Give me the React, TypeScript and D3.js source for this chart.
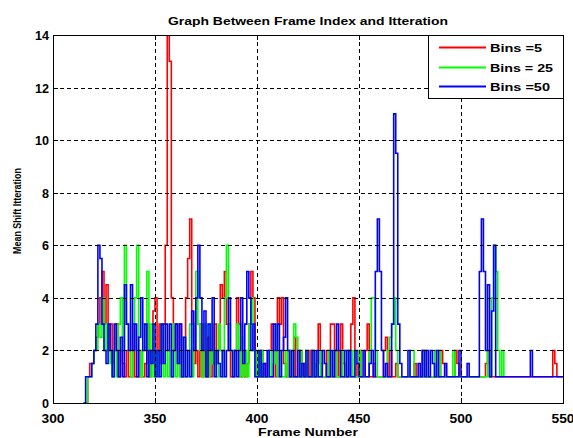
import React from 'react';
import * as d3 from 'd3';

const startFrame = 315;

// Bins = 5 (red), frames 315..550
const bins5 = [
  0, 0, 1, 1.5, 1.5, 2, 2.5, 3, 4, 5,
  3, 4.5, 2, 3, 1.5, 2, 3, 1, 2, 1.5,
  1, 2, 1, 1, 3, 1, 1, 2, 1, 1,
  1.5, 3, 1, 2, 3.5, 4, 2, 3, 1.5, 3,
  6, 14, 13, 4, 2, 3, 1.5, 3, 1, 2,
  4, 5.5, 7, 3, 1.5, 2, 1, 3, 1, 2,
  1, 2.5, 1, 2, 3, 1.5, 2, 4.5, 4, 5,
  3, 2, 1, 1, 2, 4, 3, 1, 2, 1,
  1.5, 3, 5, 4, 2, 1, 1, 2, 1, 1.5,
  1, 2, 3, 2, 1, 4, 3, 4, 1.5, 1,
  2, 1, 1, 2.5, 1, 1, 2, 1, 1.5, 1,
  1, 2, 1, 1, 1, 3, 1.5, 1, 1, 2,
  1, 3, 3, 1, 2, 1, 3, 1.5, 1, 1,
  2, 3, 4, 1, 1.5, 2, 1, 1, 2, 3,
  1, 1, 1.5, 1, 1, 1, 1, 2, 2.5, 1,
  2, 1, 1, 1.5, 1, 1, 1, 1, 1, 1,
  1, 1, 1.5, 1, 1, 1, 2, 2, 1, 1,
  1, 1, 1, 1, 1, 2, 1.5, 1, 1, 1,
  1, 1, 2, 1.5, 1, 1, 1, 1, 1, 1,
  1, 1, 1, 1, 1, 1, 1, 1.5, 2, 1,
  1, 1, 1, 1, 1, 1, 1, 1, 1, 1,
  1, 1, 1, 1, 1, 1, 1, 1, 1, 1,
  1, 1, 1, 1, 1, 1, 1, 1, 1, 1,
  2, 1.5, 1, 1, 1, 1,
];

// Bins = 25 (green), frames 315..521
const bins25 = [
  0, 0, 1, 1, 1.5, 2, 2, 3, 2.5, 4,
  2, 3, 2, 1.5, 1, 2, 1, 3, 4, 2,
  6, 3, 2, 1, 2, 4, 6, 2, 1, 3,
  2, 5, 1, 3, 1, 2, 1, 2, 3, 1,
  2, 1, 2, 1, 3, 1, 2, 1, 2.5, 1,
  1, 2, 3, 1, 2, 5, 3, 2, 1, 3,
  2, 1, 3, 1.5, 2, 1, 3, 2, 1, 4,
  6, 3, 2, 1, 2, 3, 1, 2.5, 1, 2,
  1, 3, 4, 2, 1, 2, 1, 2, 1, 1,
  1, 2, 1, 1.5, 3, 1, 2, 1, 1, 2,
  1, 2, 1, 3, 2.5, 1, 2, 1, 1, 2,
  1, 1, 2, 1, 1.5, 1, 2, 1, 1, 1,
  2, 1, 1, 2, 1, 1, 2, 1, 1, 2,
  1, 1, 2, 1, 1, 2, 1, 1, 1, 1,
  2, 4, 4, 2, 1, 1, 1, 1, 1, 2,
  2.5, 3, 4, 2, 1, 1, 1, 1, 1, 1,
  2, 2, 1, 1, 1, 1, 1, 2, 1, 1,
  1, 1, 2, 1, 2, 1, 1, 1, 1, 1,
  1, 2, 1, 1, 1, 1, 1, 1, 1, 1,
  1, 1, 1, 1, 1, 1, 1, 1, 2, 1,
  4, 6, 5, 2, 1, 2, 1,
];

// Bins = 50 (blue), frames 315..550
const bins50 = [
  0, 1, 1, 1, 1.5, 2, 3, 6, 5.5, 3,
  2, 1.5, 3, 2, 1, 3, 2, 1, 2.5, 1,
  4.5, 3, 2, 4.5, 2, 3, 1, 2.5, 4, 2,
  3, 1, 2, 1.5, 3, 1, 2, 1, 3, 1.5,
  3, 2, 3, 1, 2, 3, 1.5, 3, 1, 2.5,
  1, 2, 1, 3.5, 2, 4, 6, 4, 2, 3.5,
  1, 3, 2, 4, 1, 2, 1.5, 1, 2, 1,
  2, 4, 2, 1, 2, 1, 2, 4, 1.5, 3,
  5, 4, 2, 3, 1, 1, 2, 1, 1.5, 1,
  2, 1, 1, 3, 2, 3, 1, 2, 2.5, 4,
  2, 1, 2, 1, 1, 2, 1, 1.5, 1, 2,
  1, 1, 2, 1, 2, 1, 1, 2, 1.5, 1,
  1, 2, 1, 2, 3, 2, 1, 1, 2, 1,
  2, 1, 1, 2, 1.5, 1, 1, 2, 1, 1,
  1.5, 2, 1, 5, 7, 5, 2, 1, 1.5, 1,
  1, 3, 11, 9.5, 3, 1.5, 1, 1, 1, 2,
  1, 1, 1, 1, 1.5, 1, 2, 1, 2, 1,
  2, 1.5, 1, 2, 1, 1, 1, 1.5, 1, 1,
  1, 1, 1, 1, 2, 1, 1, 1, 1.5, 1,
  1, 1, 1, 1, 5, 7, 5, 2, 4.5, 1,
  3.5, 6, 1, 1, 1, 1, 1, 1, 1, 1,
  1, 1, 1, 1, 1, 1, 1, 1, 1, 2,
  1, 1, 1, 1, 1, 1, 1, 1, 1, 1,
  1, 1, 1, 1, 1, 1,
];

const seriesNames = ['Bins =5', 'Bins = 25', 'Bins =50'];
const seriesColors = ['#ff0000', '#00ff00', '#0000ff'];
const seriesData = [bins5, bins25, bins50];
const xTicks = [300, 350, 400, 450, 500, 550];
const yTicks = [0, 2, 4, 6, 8, 10, 12, 14];
const titleText = 'Graph Between Frame Index and Itteration';
const xLabelText = 'Frame Number';
const yLabelText = 'Mean Shift Itteration';

export default function App() {
  const W = 573;
  const H = 438;
  const left = 53, right = 563, top = 35, bottom = 403;
  const x = d3.scaleLinear().domain([300, 550]).range([left, right]);
  const y = d3.scaleLinear().domain([0, 14]).range([bottom, top]);
  const line = d3
    .line<number>()
    .x((_, i) => x(startFrame + i))
    .y((d) => y(d))
    .curve(d3.curveStepAfter);

  const font = "'Liberation Sans', Arial, sans-serif";
  const legendTextLen = [52, 63, 60];
  const legendRows = [47.5, 67.5, 86.5];

  return (
    <div style={{ position: 'absolute', left: 0, top: 0 }}>
      <svg width={W} height={H} style={{ display: 'block', background: '#fff' }}>
        <defs>
          <clipPath id="plotClip">
            <rect x={left} y={top} width={right - left} height={bottom - top} />
          </clipPath>
        </defs>
        <rect x={0} y={0} width={W} height={H} fill="#fff" />
        <g clipPath="url(#plotClip)">
          {seriesData.map((s, k) => (
            <path
              key={k}
              d={line(s) || ''}
              fill="none"
              stroke={seriesColors[k]}
              strokeWidth={1.6}
              strokeLinejoin="miter"
            />
          ))}
        </g>
        {/* grid */}
        <g stroke="#000" strokeWidth={1} strokeDasharray="4,3" shapeRendering="crispEdges">
          {xTicks.slice(1, -1).map((t) => (
            <line key={'gx' + t} x1={Math.round(x(t)) + 0.5} x2={Math.round(x(t)) + 0.5} y1={top} y2={bottom} />
          ))}
          {yTicks.slice(1, -1).map((t) => (
            <line key={'gy' + t} x1={left} x2={right} y1={Math.round(y(t)) + 0.5} y2={Math.round(y(t)) + 0.5} />
          ))}
        </g>
        {/* ticks */}
        <g stroke="#000" strokeWidth={1} shapeRendering="crispEdges">
          {xTicks.map((t) => (
            <g key={'tx' + t}>
              <line x1={Math.round(x(t)) + 0.5} x2={Math.round(x(t)) + 0.5} y1={bottom} y2={bottom - 5} />
              <line x1={Math.round(x(t)) + 0.5} x2={Math.round(x(t)) + 0.5} y1={top} y2={top + 5} />
            </g>
          ))}
          {yTicks.map((t) => (
            <g key={'ty' + t}>
              <line x1={left} x2={left + 5} y1={Math.round(y(t)) + 0.5} y2={Math.round(y(t)) + 0.5} />
              <line x1={right} x2={right - 5} y1={Math.round(y(t)) + 0.5} y2={Math.round(y(t)) + 0.5} />
            </g>
          ))}
        </g>
        {/* frame */}
        <rect
          x={left + 0.5}
          y={top + 0.5}
          width={right - left}
          height={bottom - top}
          fill="none"
          stroke="#000"
          strokeWidth={1.3}
          shapeRendering="crispEdges"
        />
        {/* tick labels */}
        <g fontFamily={font} fontWeight="bold" fontSize={12} fill="#000">
          {xTicks.map((t) => (
            <text key={'lx' + t} x={x(t)} y={423} textAnchor="middle" textLength={23} lengthAdjust="spacingAndGlyphs">
              {String(t)}
            </text>
          ))}
          {yTicks.map((t) => (
            <text
              key={'ly' + t}
              x={49}
              y={y(t) + 5}
              textAnchor="end"
              textLength={t >= 10 ? 14 : 7}
              lengthAdjust="spacingAndGlyphs"
            >
              {String(t)}
            </text>
          ))}
        </g>
        {/* title and axis labels */}
        <text
          x={(left + right) / 2}
          y={25}
          textAnchor="middle"
          fontFamily={font}
          fontWeight="bold"
          fontSize={11}
          textLength={280}
          lengthAdjust="spacingAndGlyphs"
        >
          {titleText}
        </text>
        <text
          x={(left + right) / 2}
          y={436}
          textAnchor="middle"
          fontFamily={font}
          fontWeight="bold"
          fontSize={11}
          textLength={100}
          lengthAdjust="spacingAndGlyphs"
        >
          {xLabelText}
        </text>
        <text
          transform={`translate(21,${(top + bottom) / 2 - 8}) rotate(-90)`}
          textAnchor="middle"
          fontFamily={font}
          fontWeight="bold"
          fontSize={11}
          textLength={86}
          lengthAdjust="spacingAndGlyphs"
        >
          {yLabelText}
        </text>
        {/* legend */}
        <g>
          <rect x={428.5} y={top + 0.5} width={right - 428} height={63} fill="#fff" stroke="#000" strokeWidth={1.2} shapeRendering="crispEdges" />
          {seriesNames.map((n, k) => (
            <g key={n}>
              <line
                x1={439}
                x2={486}
                y1={legendRows[k]}
                y2={legendRows[k]}
                stroke={seriesColors[k]}
                strokeWidth={1.8}
              />
              <text
                x={490}
                y={legendRows[k] + 4}
                fontFamily={font}
                fontWeight="bold"
                fontSize={10}
                textLength={legendTextLen[k]}
                lengthAdjust="spacingAndGlyphs"
              >
                {n}
              </text>
            </g>
          ))}
        </g>
      </svg>
    </div>
  );
}
